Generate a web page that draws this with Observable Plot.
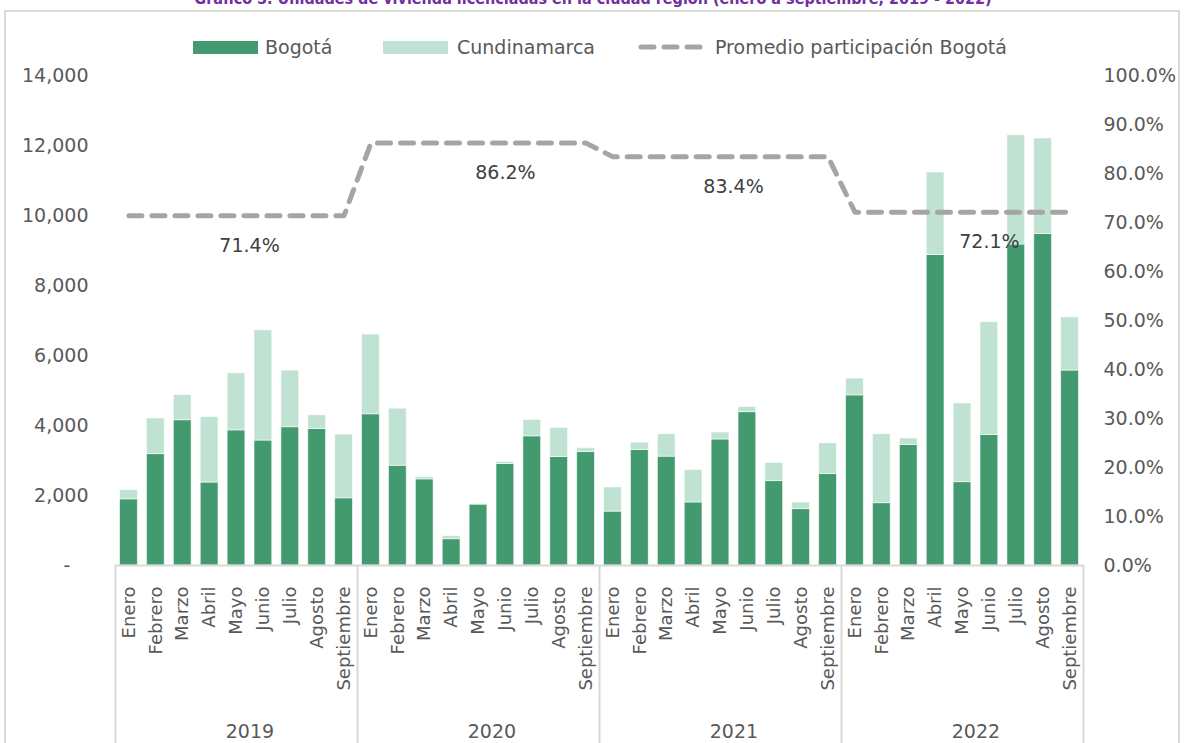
<!DOCTYPE html>
<html>
<head>
<meta charset="utf-8">
<script src="https://cdn.jsdelivr.net/npm/d3@7"></script>
<script src="https://cdn.jsdelivr.net/npm/@observablehq/plot@0.6"></script>
<style>
  html, body { margin: 0; padding: 0; background: #fff; overflow: hidden; }
  #wrap { position: relative; width: 1186px; height: 743px; font-family: "DejaVu Sans", sans-serif; color: #595959; }
  #title { position: absolute; left: 0; width: 1186px; top: -9px; text-align: center; font-family: "Liberation Sans Narrow", "DejaVu Sans Condensed", sans-serif; font-stretch: condensed; font-weight: bold; font-size: 16px; line-height: 16px; color: #70309F; white-space: nowrap; }
  #frame { position: absolute; left: 4px; top: 10px; width: 1176px; height: 740px; border: 2px solid #D9D9D9; box-sizing: border-box; }
  #legend { position: absolute; top: 35px; left: 0; width: 1186px; height: 24px; }
  .li { position: absolute; top: 0; height: 24px; line-height: 24px; font-size: 19px; color: #595959; white-space: nowrap; }
  .sw { position: absolute; top: 6px; width: 65px; height: 13px; }
  #chart { position: absolute; left: 0; top: 60px; }
</style>
</head>
<body>
<div id="wrap">
  <div id="title">Gráfico 5. Unidades de vivienda licenciadas en la ciudad región (enero a septiembre, 2019 - 2022)</div>
  <div id="frame"></div>
  <div id="legend"></div>
  <div id="chart"></div>
</div>
<script>
// ---------- data ----------
const years = ["2019", "2020", "2021", "2022"];
const months = ["Enero", "Febrero", "Marzo", "Abril", "Mayo", "Junio", "Julio", "Agosto", "Septiembre"];
const seriesNames = ["Bogotá", "Cundinamarca"];
const bogota = [
  1890, 3180, 4150, 2370, 3860, 3570, 3950, 3900, 1920,
  4320, 2850, 2460, 750, 1740, 2900, 3690, 3100, 3240,
  1540, 3300, 3110, 1800, 3600, 4380, 2410, 1610, 2610,
  4860, 1780, 3440, 8870, 2380, 3730, 9170, 9470, 5570
];
const cundinamarca = [
  260, 1020, 720, 1870, 1630, 3150, 1620, 390, 1820,
  2280, 1630, 70, 90, 20, 60, 470, 830, 110,
  690, 210, 640, 930, 200, 150, 520, 190, 880,
  480, 1970, 190, 2360, 2250, 3220, 3120, 2730, 1520
];
const promedio = [71.4, 86.2, 83.4, 72.1];           // % por año
const labelMonth = ["Mayo", "Junio", "Mayo", "Junio"]; // mes junto al cual va la etiqueta
const leftTicks = [0, 2000, 4000, 6000, 8000, 10000, 12000, 14000];
const rightTicks = [0, 10, 20, 30, 40, 50, 60, 70, 80, 90, 100];

// ---------- derived tables ----------
const key = (y, m) => y + "|" + m;
const keys = years.flatMap(y => months.map(m => key(y, m)));
const bars = [];
years.forEach((y, yi) => months.forEach((m, mi) => {
  const i = yi * months.length + mi;
  bars.push({k: key(y, m), serie: "Bogotá", v: bogota[i]});
  bars.push({k: key(y, m), serie: "Cundinamarca", v: cundinamarca[i]});
}));
const YMAX = 14000;
const line = years.flatMap((y, yi) => months.map(m => ({k: key(y, m), p: promedio[yi]})));
const labels = years.map((y, yi) => ({k: key(y, labelMonth[yi]), p: promedio[yi], year: y, m: labelMonth[yi]}));
const yearLabels = years.map(y => ({k: key(y, "Mayo"), year: y}));
const firsts = years.map(y => key(y, "Enero"));

// ---------- layout ----------
const W = 1186, H = 683;
const mL = 115, mR = 103, mT = 15, mB = 178;
const step = (W - mL - mR) / keys.length;
const plotH = H - mT - mB;
const colors = {"Bogotá": "#449A6F", "Cundinamarca": "#C0E2D3"};

// ---------- legend ----------
const legend = document.getElementById("legend");
legend.innerHTML = `
  <div class="sw" style="left:193px;background:${colors["Bogotá"]}"></div>
  <div class="li" style="left:265px">Bogotá</div>
  <div class="sw" style="left:383px;background:${colors["Cundinamarca"]}"></div>
  <div class="li" style="left:457px">Cundinamarca</div>
  <svg style="position:absolute;left:638px;top:5px" width="70" height="14"><line x1="3" x2="67" y1="7" y2="7" stroke="#A5A5A5" stroke-width="5" stroke-linecap="round" stroke-dasharray="13,10"/></svg>
  <div class="li" style="left:715px">Promedio participación Bogotá</div>`;

// ---------- chart ----------
const chart = Plot.plot({
  width: W, height: H,
  marginLeft: mL, marginRight: mR, marginTop: mT, marginBottom: mB,
  style: {fontFamily: "DejaVu Sans, sans-serif", fontSize: "19px", color: "#595959", overflow: "visible"},
  x: {domain: keys, paddingInner: 0.34, paddingOuter: 0.17, axis: null, label: null},
  y: {domain: [0, YMAX], axis: null, label: null},
  color: {domain: seriesNames, range: seriesNames.map(s => colors[s])},
  marks: [
    Plot.barY(bars, Plot.stackY({x: "k", y: "v", fill: "serie", order: seriesNames, stroke: "#ffffff", strokeWidth: 0.8, strokeOpacity: 0.7})),
    Plot.ruleY([0], {stroke: "#D9D9D9", strokeWidth: 2}),
    // group separators below axis
    Plot.ruleX(firsts, {x: d => d, dx: -step / 2, stroke: "#D9D9D9", strokeWidth: 2, insetTop: plotH, insetBottom: -mB}),
    Plot.ruleX([keys[keys.length - 1]], {x: d => d, dx: step / 2, stroke: "#D9D9D9", strokeWidth: 2, insetTop: plotH, insetBottom: -mB}),
    // average participation line (right axis, percent mapped onto 0–14000)
    Plot.line(line, {x: "k", y: d => d.p / 100 * YMAX, stroke: "#A5A5A5", strokeWidth: 5, strokeDasharray: "13,10", strokeLinecap: "round"}),
    Plot.text(labels.filter(d => d.m === "Mayo"), {x: "k", y: d => d.p / 100 * YMAX, text: d => d.p.toFixed(1) + "%", dy: 30, dx: 13, fill: "#404040", fontSize: 19}),
    Plot.text(labels.filter(d => d.m === "Junio"), {x: "k", y: d => d.p / 100 * YMAX, text: d => d.p.toFixed(1) + "%", dy: 30, dx: 0, fill: "#404040", fontSize: 19}),
    // axes
    Plot.axisY(leftTicks, {anchor: "left", label: null, tickSize: 0, tickPadding: 27, tickFormat: d => d === 0 ? "-   " : d3.format(",")(d), fill: "#595959", fontSize: 19}),
    Plot.axisY(rightTicks.map(p => p / 100 * YMAX), {anchor: "right", label: null, tickSize: 0, tickPadding: 20, tickFormat: d => (d / YMAX * 100).toFixed(1) + "%", fill: "#595959", fontSize: 19}),
    Plot.axisX({anchor: "bottom", label: null, tickSize: 0, tickPadding: 21, tickRotate: -90, tickFormat: d => d.split("|")[1], fill: "#595959", fontSize: 18}),
    Plot.text(yearLabels, {x: "k", frameAnchor: "bottom", dy: 172, dx: step / 2, text: "year", fill: "#595959", fontSize: 19})
  ]
});
document.getElementById("chart").appendChild(chart);
</script>
</body>
</html>
